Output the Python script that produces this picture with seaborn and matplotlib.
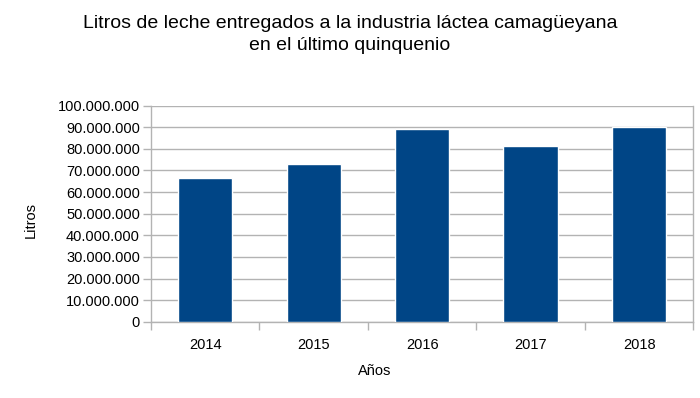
import matplotlib
matplotlib.use("Agg")
import matplotlib.pyplot as plt
import seaborn as sns
import pandas as pd
from matplotlib.ticker import FuncFormatter, FixedLocator

years = ["2014", "2015", "2016", "2017", "2018"]
litros = [66400000, 72900000, 89000000, 81300000, 90300000]
title_lines = ["Litros de leche entregados a la industria láctea camagüeyana",
               "en el último quinquenio"]
x_label = "Años"
y_label = "Litros"

df = pd.DataFrame({"year": years, "litros": litros})

sns.set_theme(style="white")
plt.rcParams["font.family"] = ["Liberation Sans", "DejaVu Sans"]
plt.rcParams["text.color"] = "black"

fig = plt.figure(figsize=(7.0, 3.98), dpi=100)
ax = fig.add_axes([151 / 700, 1 - 321.7 / 398, (693.3 - 151) / 700, (321.7 - 105.7) / 398])

sns.barplot(data=df, x="year", y="litros", color="#004586", width=0.5,
            saturation=1, ax=ax, zorder=3)

ax.set_ylim(0, 100000000)
ax.set_xlim(-0.5, len(years) - 0.5)
ax.set_yticks(range(0, 100000001, 10000000))
ax.yaxis.set_major_formatter(FuncFormatter(lambda v, p: f"{int(v):,}".replace(",", ".")))
ax.grid(axis="y", color="#b3b3b3", linewidth=1, zorder=0)
ax.set_axisbelow(True)

for s in ax.spines.values():
    s.set_color("#b3b3b3")
    s.set_linewidth(1)
ax.spines["top"].set_visible(False)

ax.tick_params(axis="y", which="major", direction="out", length=6, width=1,
               color="#b3b3b3", labelsize=10.5, labelcolor="black", pad=2, left=True)
ax.tick_params(axis="x", which="major", length=0, labelsize=10.5, labelcolor="black", pad=12)
ax.xaxis.set_minor_locator(FixedLocator([i - 0.5 for i in range(len(years) + 1)]))
ax.tick_params(axis="x", which="minor", direction="out", length=6, width=1,
               color="#b3b3b3", bottom=True)

ax.set_xlabel("")
ax.set_ylabel("")

fig.text(375 / 700, 1 - 371 / 398, x_label, ha="center", va="center", fontsize=10.5, color="black")
fig.text(30.5 / 700, 1 - 220 / 398, y_label, ha="center", va="center",
         rotation=90, fontsize=10.5, color="black")
fig.text(0.5, 1 - 24 / 398, title_lines[0], ha="center", va="center", fontsize=14, color="black")
fig.text(0.5, 1 - 46 / 398, title_lines[1], ha="center", va="center", fontsize=14, color="black")

fig.savefig("out.png", dpi=100, facecolor="white")
